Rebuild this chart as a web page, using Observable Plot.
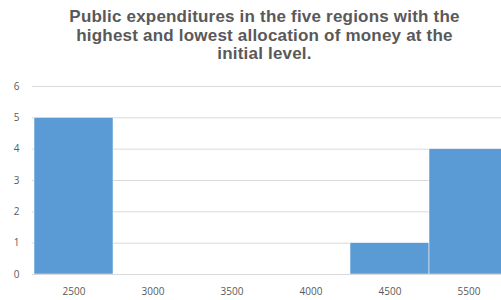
<!DOCTYPE html>
<html>
<head>
<meta charset="utf-8">
<script src="https://cdn.jsdelivr.net/npm/d3@7"></script>
<script src="https://cdn.jsdelivr.net/npm/@observablehq/plot@0.6"></script>
<style>
  html, body { margin: 0; padding: 0; background: #fff; overflow: hidden; }
  #title { width: 501px; margin-left: 14px; padding-top: 8px; height: 64px; box-sizing: content-box;
    font-family: "Liberation Sans", Arial, sans-serif; font-weight: bold; font-size: 17px;
    letter-spacing: 0.2px; line-height: 18.5px; color: #595959; text-align: center; white-space: nowrap; }
</style>
</head>
<body>
<div id="title">Public expenditures in the five regions with the<br>highest and lowest allocation of money at the<br>initial level.</div>
<div id="chart"></div>
<script>
const bins = ["2500", "3000", "3500", "4000", "4500", "5500"];
const counts = [5, 0, 0, 0, 1, 4];
const yTicks = [0, 1, 2, 3, 4, 5, 6];

const data = bins.map((b, i) => ({bin: b, count: counts[i]}));

const chart = Plot.plot({
  width: 501,
  height: 228,
  marginTop: 14,
  marginBottom: 26,
  marginLeft: 32,
  marginRight: 0,
  style: {fontFamily: "'Open Sans', 'Liberation Sans', sans-serif", fontSize: "10px", color: "#595959", background: "#fff"},
  x: {domain: bins, range: [32, 509], padding: 0, label: null, tickSize: 0, tickPadding: 13},
  y: {domain: [0, 6], ticks: yTicks, tickFormat: d3.format("d"), label: null, tickSize: 0, tickPadding: 13},
  marks: [
    Plot.ruleY(yTicks, {stroke: "#d9d9d9", strokeWidth: 1}),
    Plot.barY(data, {x: "bin", y: "count", fill: "#5b9bd5", stroke: "#ffffff", strokeWidth: 0.5, inset: 0}),
    Plot.ruleY([0], {stroke: "#d9d9d9", strokeWidth: 1})
  ]
});
document.getElementById("chart").appendChild(chart);
</script>
</body>
</html>
